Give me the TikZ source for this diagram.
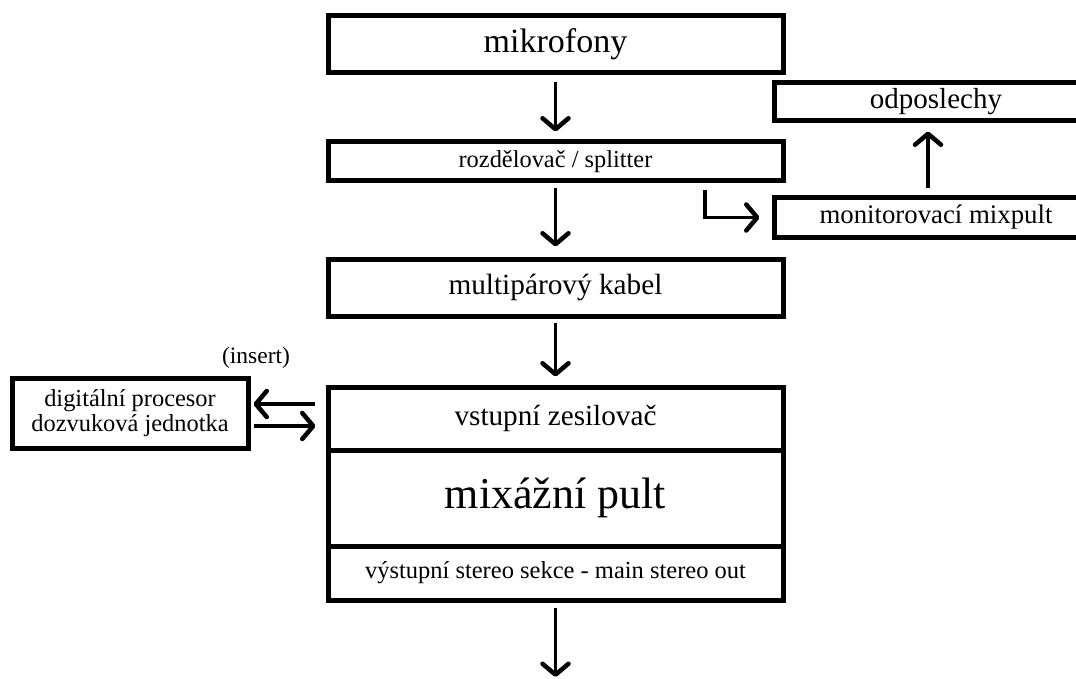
\documentclass[tikz,border=0pt]{standalone}
\usepackage{fontspec}
\setmainfont{Liberation Serif}
\usetikzlibrary{arrows.meta}
\newcommand{\vel}[1]{\fontsize{#1}{#1}\selectfont}
\tikzset{
  blok/.style={draw, rectangle, line width=5pt, inner sep=0pt},
  sipka/.style={line width=3.8pt, -{Straight Barb[length=11pt,width=26pt,line width=4.5pt 0,round]}},
}

\begin{document}
\begin{tikzpicture}[x=1pt,y=-1pt]
  \useasboundingbox (0,0) rectangle (1076,679);
  % Main chain
  \node[blok, minimum width=455pt, minimum height=57pt] (mik) at (555.5,44.5) {\vel{34}mikrofony};
  \node[blok, minimum width=455pt, minimum height=39pt] (split) at (555.5,161.5) {\vel{24.4}rozdělovač / splitter};
  \node[blok, minimum width=455pt, minimum height=57pt] (kabel) at (555.5,287.5) {\vel{29.3}multipárový kabel};
  \node[blok, minimum width=455pt, minimum height=63pt] (vstup) at (555.5,418.5) {\vel{29.2}vstupní zesilovač};
  \node[blok, minimum width=455pt, minimum height=96pt] (pult) at (555.5,498) {\vel{44}mixážní pult};
  \node[blok, minimum width=455pt, minimum height=54pt] (vystup) at (555.5,573) {\vel{24.5}výstupní stereo sekce - main stereo out};
  \coordinate (ven) at (555.5,679);

  % Monitor branch
  \node[blok, minimum width=324pt, minimum height=38pt] (odpos) at (936,102) {\vel{29}odposlechy};
  \node[blok, minimum width=324pt, minimum height=39pt] (monitor) at (936,217.5) {\vel{26.8}monitorovací mixpult};

  % Insert
  \node[blok, minimum width=236pt, minimum height=70pt, align=center, font=\fontsize{24.4}{24.5}\selectfont] (efekt) at (130,413) {digitální procesor\\dozvuková jednotka};
  \node (insert) at (256,358) {\vel{23.5}(insert)};

  \draw[sipka, shorten <=7pt, shorten >=8pt] (mik.south) -- (split.north);
  \draw[sipka, shorten <=5pt, shorten >=10pt] (split.south) -- (kabel.north);
  \draw[sipka, shorten <=4pt, shorten >=8pt] (kabel.south) -- (vstup.north);
  \draw[sipka, shorten <=5pt, shorten >=2pt] (vystup.south) -- (ven);
  \draw[sipka, shorten <=7pt, shorten >=12pt] ([xshift=149.5pt]split.south) |- (monitor.west);
  \draw[sipka, shorten <=7pt, shorten >=8pt] ([xshift=-8pt]monitor.north) -- ([xshift=-8pt]odpos.south);
  \draw[sipka, shorten <=11pt, shorten >=3pt] ([yshift=14.5pt]vstup.west) -- ([yshift=14.5pt]vstup.west -| efekt.east);
  \draw[sipka, shorten <=3pt, shorten >=10pt] ([yshift=-7.5pt]vstup.west -| efekt.east) -- ([yshift=-7.5pt]vstup.west);
\end{tikzpicture}
\end{document}
